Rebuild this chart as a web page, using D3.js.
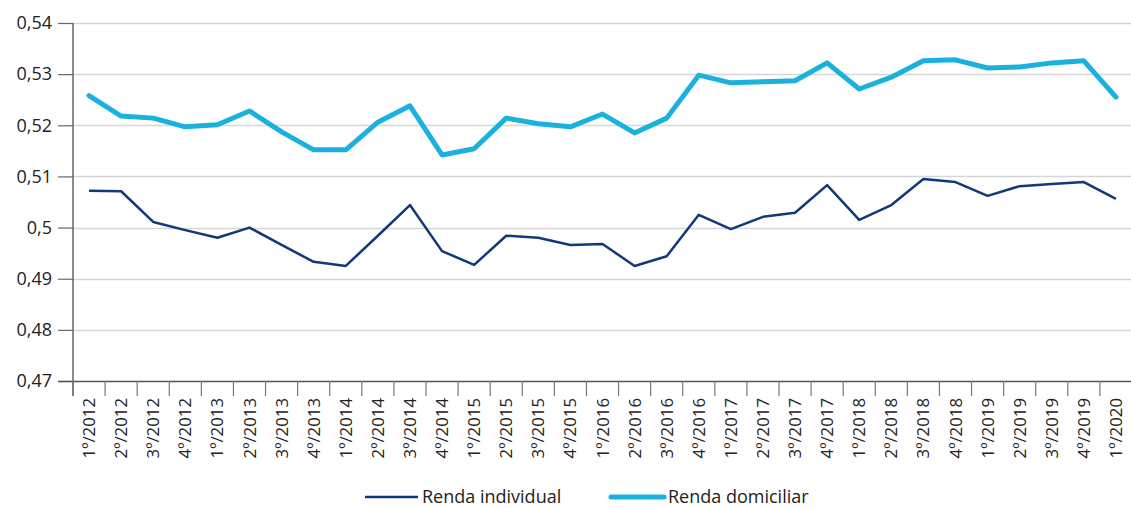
<!DOCTYPE html>
<html>
<head>
<meta charset="utf-8">
<script src="https://cdn.jsdelivr.net/npm/d3@7"></script>
<style>
	body { margin: 0; background: #fff; }
	text { font-family: "Open Sans", "Noto Sans", sans-serif; fill: #222; }
</style>
</head>
<body>
<div id="chart"></div>
<script>
// quarters on the x axis
var quarters = ["1º/2012", "2º/2012", "3º/2012", "4º/2012", "1º/2013", "2º/2013", "3º/2013", "4º/2013",
	"1º/2014", "2º/2014", "3º/2014", "4º/2014", "1º/2015", "2º/2015", "3º/2015", "4º/2015",
	"1º/2016", "2º/2016", "3º/2016", "4º/2016", "1º/2017", "2º/2017", "3º/2017", "4º/2017",
	"1º/2018", "2º/2018", "3º/2018", "4º/2018", "1º/2019", "2º/2019", "3º/2019", "4º/2019", "1º/2020"];

var rendaIndividual = [0.5072, 0.5071, 0.5011, 0.4995, 0.4980, 0.5000, 0.4966, 0.4933,
	0.4925, 0.4984, 0.5044, 0.4954, 0.4927, 0.4984, 0.4980, 0.4966,
	0.4968, 0.4925, 0.4944, 0.5025, 0.4997, 0.5021, 0.5029, 0.5083,
	0.5015, 0.5044, 0.5095, 0.5089, 0.5062, 0.5081, 0.5085, 0.5089, 0.5056];

var rendaDomiciliar = [0.5258, 0.5218, 0.5214, 0.5197, 0.5201, 0.5228, 0.5187, 0.5152,
	0.5152, 0.5206, 0.5238, 0.5142, 0.5154, 0.5214, 0.5203, 0.5197,
	0.5222, 0.5185, 0.5214, 0.5298, 0.5283, 0.5285, 0.5287, 0.5322,
	0.5271, 0.5294, 0.5326, 0.5328, 0.5312, 0.5314, 0.5322, 0.5326, 0.5255];

var yTicks = [0.47, 0.48, 0.49, 0.50, 0.51, 0.52, 0.53, 0.54];
var seriesNames = ["Renda individual", "Renda domiciliar"];

var w = 1131;
var h = 508;
var plotL = 73, plotR = 1132, plotT = 23, plotB = 381;
var darkBlue = "#12387c";
var lightBlue = "#1bb1df";

var svg = d3.select("#chart").append("svg").attr("width", w).attr("height", h);

var x = d3.scaleBand().domain(quarters).range([plotL, plotR]).padding(0);
var y = d3.scaleLinear().domain([0.47, 0.54]).range([plotB, plotT]);

var fmt = function(d) {
	return String(+d.toFixed(2)).replace(".", ",");
};

// grid lines
svg.append("g").selectAll("line").data(yTicks.slice(1)).enter().append("line")
	.attr("x1", plotL).attr("x2", w)
	.attr("y1", function(d) { return Math.round(y(d)) + 0.5; })
	.attr("y2", function(d) { return Math.round(y(d)) + 0.5; })
	.attr("stroke", "#d6d6d6").attr("stroke-width", 1.5);

// y axis
var yAxis = svg.append("g").attr("transform", "translate(" + plotL + ",0)")
	.call(d3.axisLeft(y).tickValues(yTicks).tickFormat(fmt).tickSize(15).tickPadding(6));
yAxis.select(".domain").attr("stroke", "#666").attr("stroke-width", 1.5).attr("d", "M0," + plotT + "V" + (plotB + 15));
yAxis.selectAll(".tick line").attr("stroke", "#666").attr("stroke-width", 1.2);
yAxis.selectAll(".tick text").style("font-size", "18px").attr("fill", "#222");

// x axis, ticks on band boundaries
var xg = svg.append("g");
xg.append("line").attr("x1", plotL - 15).attr("x2", w).attr("y1", plotB + 0.5).attr("y2", plotB + 0.5)
	.attr("stroke", "#555").attr("stroke-width", 1.5);
xg.selectAll(".bt").data(quarters).enter().append("line").attr("class", "bt")
	.attr("x1", function(d) { return x(d); }).attr("x2", function(d) { return x(d); })
	.attr("y1", plotB).attr("y2", plotB + 15)
	.attr("stroke", "#777").attr("stroke-width", 1.2);
xg.selectAll("text").data(quarters).enter().append("text")
	.attr("transform", function(d) {
		return "translate(" + (x(d) + x.bandwidth() / 2 + 6) + "," + (plotB + 17) + ") rotate(-90)";
	})
	.attr("text-anchor", "end")
	.style("font-size", "16.8px")
	.text(function(d) { return d; });

// lines
var line = d3.line()
	.x(function(d, i) { return x(quarters[i]) + x.bandwidth() / 2; })
	.y(function(d) { return y(d); });

svg.append("path").datum(rendaDomiciliar).attr("d", line)
	.attr("fill", "none").attr("stroke", lightBlue).attr("stroke-width", 5)
	.attr("stroke-linejoin", "round").attr("stroke-linecap", "round");

svg.append("path").datum(rendaIndividual).attr("d", line)
	.attr("fill", "none").attr("stroke", darkBlue).attr("stroke-width", 2.5)
	.attr("stroke-linejoin", "round");

// legend
var legend = [
	{ name: seriesNames[0], color: darkBlue, width: 2.5, x: 365 },
	{ name: seriesNames[1], color: lightBlue, width: 5, x: 611 }
];
var lg = svg.append("g").selectAll("g").data(legend).enter().append("g")
	.attr("transform", function(d) { return "translate(" + d.x + ",497)"; });
lg.append("line").attr("x1", 0).attr("x2", 53).attr("y1", 0).attr("y2", 0)
	.attr("stroke", function(d) { return d.color; })
	.attr("stroke-width", function(d) { return d.width; })
	.attr("stroke-linecap", function(d) { return d.width > 3 ? "round" : "butt"; });
lg.append("text").attr("x", 57).attr("y", 6).style("font-size", "18px")
	.text(function(d) { return d.name; });
</script>
</body>
</html>
